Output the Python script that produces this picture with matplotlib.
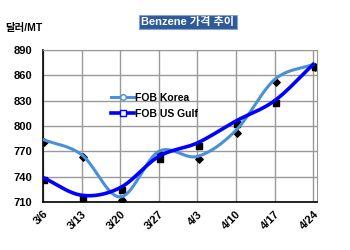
import numpy as np
import matplotlib
matplotlib.use("Agg")
import matplotlib.pyplot as plt
import matplotlib.transforms as mtransforms

plt.rcParams['font.family'] = ['Liberation Sans', 'Noto Sans CJK KR', 'DejaVu Sans']

# === Data ===
weeks = ["3/6", "3/13", "3/20", "3/27", "4/3", "4/10", "4/17", "4/24"]
fob_korea = [784, 766, 716, 770, 764, 795, 855, 873]
fob_usgulf = [739, 718, 727, 764, 780, 806, 830, 873]
y_ticks = [710, 740, 770, 800, 830, 860, 890]


def smooth(xs, ys, n=20):
    """Catmull-Rom curve through the points (just for drawing)."""
    xs = np.asarray(xs, float)
    ys = np.asarray(ys, float)
    px = np.concatenate([[2 * xs[0] - xs[1]], xs, [2 * xs[-1] - xs[-2]]])
    py = np.concatenate([[2 * ys[0] - ys[1]], ys, [2 * ys[-1] - ys[-2]]])
    out_x, out_y = [], []
    t = np.linspace(0, 1, n, endpoint=False)
    for i in range(1, len(px) - 2):
        for p, o in ((px, out_x), (py, out_y)):
            p0, p1, p2, p3 = p[i - 1], p[i], p[i + 1], p[i + 2]
            o.extend(0.5 * (2 * p1 + (-p0 + p2) * t
                            + (2 * p0 - 5 * p1 + 4 * p2 - p3) * t ** 2
                            + (-p0 + 3 * p1 - 3 * p2 + p3) * t ** 3))
    out_x.append(xs[-1])
    out_y.append(ys[-1])
    return np.array(out_x), np.array(out_y)


fig = plt.figure(figsize=(3.5, 2.5), dpi=100)
ax = fig.add_axes([0.123, 0.192, 0.783, 0.608])
x = np.arange(len(weeks))

light = "#4a90d9"
dark = "#0000ff"

# black marker "shadows" sit slightly below-right of the line points
shadow = mtransforms.offset_copy(ax.transData, fig=fig, x=1, y=-2, units="points")
ax.scatter(x, fob_korea, marker="D", s=14, color="black", zorder=2, transform=shadow)
ax.scatter(x, fob_usgulf, marker="s", s=22, color="black", zorder=2, transform=shadow)

sx, sy = smooth(x, fob_korea)
ax.plot(sx, sy, color=light, lw=2.2, zorder=3)
sx, sy = smooth(x, fob_usgulf)
ax.plot(sx, sy, color=dark, lw=2.6, zorder=4)

# legend handles
ax.plot([], [], color=light, lw=2.2, marker="o", ms=4, mfc="white", label="FOB Korea")
ax.plot([], [], color=dark, lw=2.6, marker="s", ms=4, mfc="white", label="FOB US Gulf")
ax.legend(loc="upper left", bbox_to_anchor=(0.215, 0.78), frameon=False,
          handlelength=2.2, handletextpad=0.1, labelspacing=0.55,
          prop={"weight": "bold", "size": 7.5})

ax.set_xlim(0, 7.1)
ax.set_ylim(710, 890)
ax.set_yticks(y_ticks)
ax.set_xticks(x)
ax.set_xticklabels(weeks, rotation=45, ha="right", rotation_mode="anchor")
ax.tick_params(labelsize=8, length=0)
ax.tick_params(axis="y", pad=8)
ax.tick_params(axis="x", pad=5)
for lab in ax.get_xticklabels() + ax.get_yticklabels():
    lab.set_fontweight("bold")
ax.grid(True, color="#999999", lw=1)
ax.set_axisbelow(True)
for side in ("top", "right"):
    ax.spines[side].set_color("#999999")
for side in ("left", "bottom"):
    ax.spines[side].set_color("black")
    ax.spines[side].set_linewidth(1.2)

fig.text(0.537, 0.912, "Benzene 가격 추이", color="white", fontsize=8,
         fontweight="bold", ha="center", va="center",
         bbox=dict(boxstyle="square,pad=0.2", fc="#2e5a9a", ec="#8aa4c8", lw=0.8))
fig.text(0.015, 0.888, "달러/MT", fontsize=7.5, fontweight="bold", ha="left", va="center")

fig.savefig("out.png", dpi=100)
